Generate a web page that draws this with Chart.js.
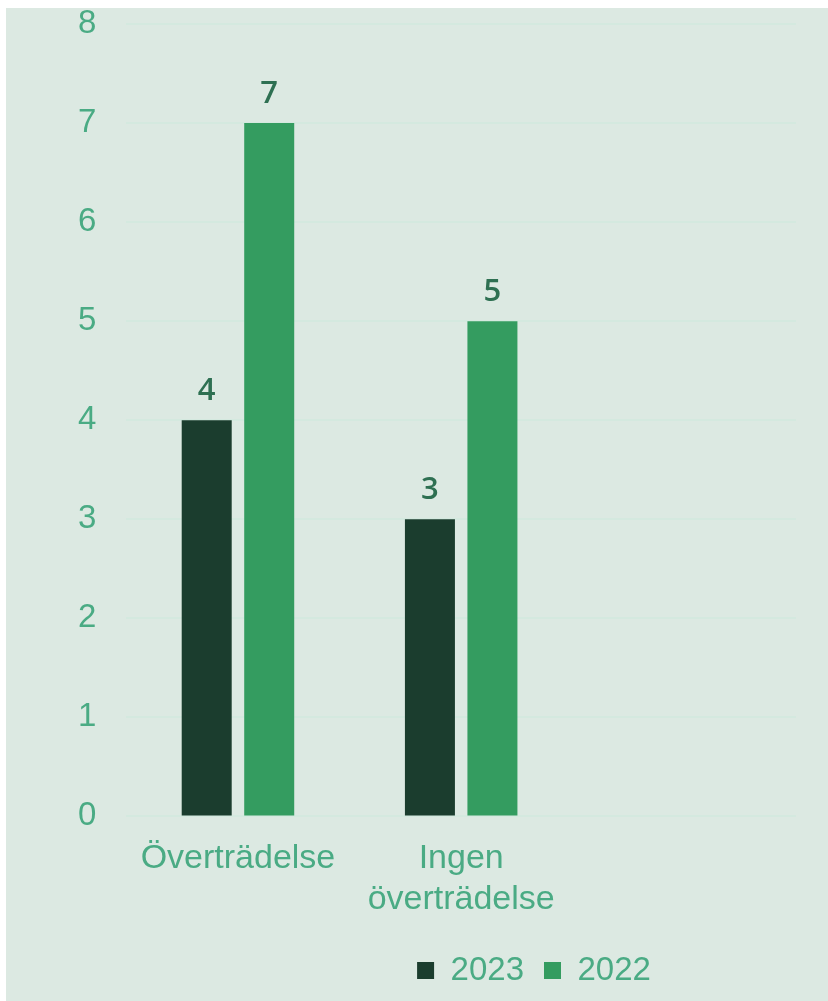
<!DOCTYPE html>
<html lang="sv">
<head>
<meta charset="utf-8">
<title>Överträdelse</title>
<script src="https://cdn.jsdelivr.net/npm/chart.js@4.4.1/dist/chart.umd.min.js"></script>
<style>
  body { margin: 0; background: #ffffff; }
  #wrap { position: absolute; left: 6px; top: 8px; width: 822px; height: 993px; background: #dce9e2; }
</style>
</head>
<body>
<div id="wrap"><canvas id="chart" width="822" height="993"></canvas></div>
<script>
// Kategorier och serier
const categories = ["Överträdelse", ["Ingen", "överträdelse"], ""];
const values2023 = [4, 3, null];
const values2022 = [7, 5, null];
const yTicks = [0, 1, 2, 3, 4, 5, 6, 7, 8];

const tickColor = "#4aab84";

// Plugin för värdeetiketter ovanför staplarna
const valueLabels = {
    id: "valueLabels",
    afterDatasetsDraw(chart) {
        const ctx = chart.ctx;
        ctx.save();
        ctx.font = "600 31px 'Open Sans'";
        ctx.fillStyle = "#2e7052";
        ctx.textAlign = "center";
        ctx.textBaseline = "alphabetic";
        chart.data.datasets.forEach(function (ds, i) {
            chart.getDatasetMeta(i).data.forEach(function (bar, j) {
                if (ds.data[j] == null) return;
                ctx.fillText(String(ds.data[j]), bar.x, bar.y - 20);
            });
        });
        ctx.restore();
    }
};

// Flytta förklaringen åt höger som i originalet
const shiftLegend = {
    id: "shiftLegend",
    afterLayout(chart) {
        chart.legend.left += 112;
        chart.legend.right += 112;
    }
};

new Chart(document.getElementById("chart").getContext("2d"), {
    type: "bar",
    data: {
        labels: categories,
        datasets: [
            { label: "2023", data: values2023, backgroundColor: "#1b3d2e" },
            { label: "2022", data: values2022, backgroundColor: "#349c60" }
        ]
    },
    options: {
        responsive: false,
        animation: false,
        categoryPercentage: 0.56,
        barPercentage: 0.8,
        layout: { padding: { left: 42, right: 32, top: 16, bottom: 4 } },
        scales: {
            x: {
                grid: { display: false },
                border: { display: false },
                ticks: {
                    color: tickColor,
                    font: { family: "'Liberation Sans', Arial", size: 34, lineHeight: 1.2 },
                    padding: 14,
                    maxRotation: 0,
                    autoSkip: false
                }
            },
            y: {
                min: 0,
                max: 8,
                afterBuildTicks(axis) {
                    axis.ticks = yTicks.map(function (v) { return { value: v }; });
                },
                afterFit(axis) {
                    axis.paddingTop = 0;
                    axis.paddingBottom = 0;
                },
                grid: { color: "#d4e9df", lineWidth: 2, drawTicks: false },
                border: { display: false },
                ticks: {
                    color: tickColor,
                    font: { family: "'Liberation Sans', Arial", size: 33 },
                    padding: 30
                }
            }
        },
        plugins: {
            legend: {
                position: "bottom",
                labels: {
                    color: tickColor,
                    font: { family: "'Liberation Sans', Arial", size: 33 },
                    boxWidth: 17,
                    boxHeight: 17,
                    padding: 20
                }
            },
            tooltip: { enabled: false }
        }
    },
    plugins: [valueLabels, shiftLegend]
});
</script>
</body>
</html>
